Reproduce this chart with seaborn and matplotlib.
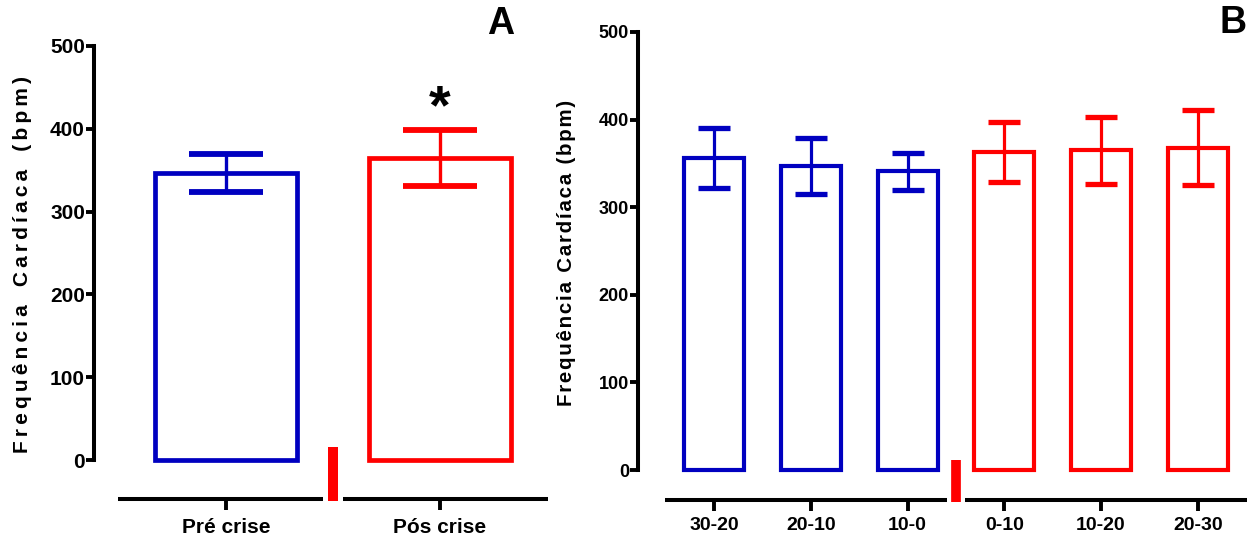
import matplotlib
matplotlib.use("Agg")
import matplotlib.pyplot as plt
import seaborn as sns
import pandas as pd
import numpy as np
from matplotlib import font_manager

# ---------------- data ----------------
cats_a = ["Pré crise", "Pós crise"]
mean_a = [347, 365]
sd_a = [23, 34]
colors_a = ["#0000C0", "#FF0000"]

cats_b = ["30-20", "20-10", "10-0", "0-10", "10-20", "20-30"]
mean_b = [356, 347, 341, 363, 365, 368]
sd_b = [34, 32, 21, 34, 38, 43]
colors_b = ["#0000C0", "#0000C0", "#0000C0", "#FF0000", "#FF0000", "#FF0000"]

yticks = [0, 100, 200, 300, 400, 500]
ylabel = "Frequência Cardíaca (bpm)"

# ---------------- fonts ----------------
sns.set_theme(style="white")
names = {f.name for f in font_manager.fontManager.ttflist}
NARROW = "Liberation Sans Narrow" if "Liberation Sans Narrow" in names else "Liberation Sans"
plt.rcParams["font.family"] = ["Liberation Sans", "DejaVu Sans"]

W, H = 1247, 544
fig = plt.figure(figsize=(W / 100, H / 100), dpi=100)


def px_axes(left, right, top, bottom):
    return fig.add_axes([left / W, 1 - bottom / H, (right - left) / W, (bottom - top) / H])


def panel(ax, cats, means, sds, colors, ylow, xpad, bar_w, lw, cap, capthick, elw,
          yspine_off, ytick_size, xtick_size, gap, mark_w, mark_top, mark_bot,
          axis_lw, xpad_lbl):
    df = pd.DataFrame({"cat": cats, "val": means})
    sns.barplot(data=df, x="cat", y="val", hue="cat", palette=colors, fill=False,
                linewidth=lw, width=bar_w, errorbar=None, legend=False, ax=ax, zorder=2)
    for p in ax.patches:
        p.set_joinstyle("miter")
    x = np.arange(len(cats))
    for xi, m, s, c in zip(x, means, sds, colors):
        ax.errorbar([xi], [m], yerr=[s], fmt="none", ecolor=c, elinewidth=elw,
                    capsize=cap, capthick=capthick, zorder=3)
    n = len(cats)
    # spines first (set_position resets ticks)
    for sp in ["top", "right", "bottom"]:
        ax.spines[sp].set_visible(False)
    ax.spines["left"].set_position(("outward", yspine_off))
    ax.spines["left"].set_bounds(0, 500)
    ax.spines["left"].set_linewidth(axis_lw)
    ax.spines["left"].set_color("black")
    ax.set_xlim(-0.5 - xpad, n - 0.5 + xpad)
    ax.set_ylim(ylow, 500)
    ax.set_yticks(yticks)
    ax.set_yticklabels([str(t) for t in yticks], fontweight="bold",
                       fontsize=ytick_size, color="black")
    ax.set_xticks(x)
    ax.set_xticklabels(cats, fontweight="bold", fontsize=xtick_size, color="black")
    ax.set_xlabel("")
    ax.set_ylabel("")
    ax.tick_params(axis="y", left=True, length=5.5, width=2.8, color="black", pad=1)
    ax.tick_params(axis="x", bottom=True, length=8, width=2.8, color="black", pad=xpad_lbl)
    ax.patch.set_visible(False)
    # broken x axis
    mid = (n - 1) / 2.0
    lo, hi = ax.get_xlim()
    ax.plot([lo, mid - gap], [ylow, ylow], color="black", lw=axis_lw,
            solid_capstyle="butt", clip_on=False, zorder=4)
    ax.plot([mid + gap, hi], [ylow, ylow], color="black", lw=axis_lw,
            solid_capstyle="butt", clip_on=False, zorder=4)
    ax.plot([mid, mid], [mark_bot, mark_top], color="#FF0000", lw=mark_w,
            solid_capstyle="butt", clip_on=False, zorder=4)


# Panel A
axA = px_axes(118, 548, 46, 499)
panel(axA, cats_a, mean_a, sd_a, colors_a, ylow=-47.1, xpad=0.005, bar_w=0.66,
      lw=3.4, cap=26.5, capthick=4.2, elw=2.4, yspine_off=17.3,
      ytick_size=15, xtick_size=15, gap=0.045, mark_w=7.2, mark_top=15.7,
      mark_bot=-49.5, axis_lw=2.9, xpad_lbl=6)
axA.text(1, 423, "*", ha="center", va="center", fontsize=40, fontweight="bold",
         color="black")
spaced = "\u2009".join(list(ylabel)).replace("\u2009 \u2009", "\u2009\u2009 \u2009")
fig.text(23 / W, 1 - 265 / H, spaced,
         rotation=90, ha="center", va="center", fontsize=15, fontweight="bold",
         color="black")
fig.text(501 / W, 1 - 24 / H, "A", ha="center", va="center", fontsize=27,
         fontweight="bold", fontfamily=NARROW, color="black")

# Panel B
axB = px_axes(665, 1247, 32, 500)
panel(axB, cats_b, mean_b, sd_b, colors_b, ylow=-34.2, xpad=0.01, bar_w=0.62,
      lw=3.0, cap=11.3, capthick=3.8, elw=2.3, yspine_off=19.4,
      ytick_size=13, xtick_size=14, gap=0.098, mark_w=7.0, mark_top=11.4,
      mark_bot=-36.5, axis_lw=2.9, xpad_lbl=4)
spaced_b = "\u200a".join(list(ylabel))
fig.text(567 / W, 1 - 253 / H, spaced_b, rotation=90, ha="center", va="center",
         fontsize=14.8, fontweight="bold", color="black")
fig.text(1233 / W, 1 - 23 / H, "B", ha="center", va="center", fontsize=27,
         fontweight="bold", fontfamily=NARROW, color="black")

fig.savefig("out.png", dpi=100)
